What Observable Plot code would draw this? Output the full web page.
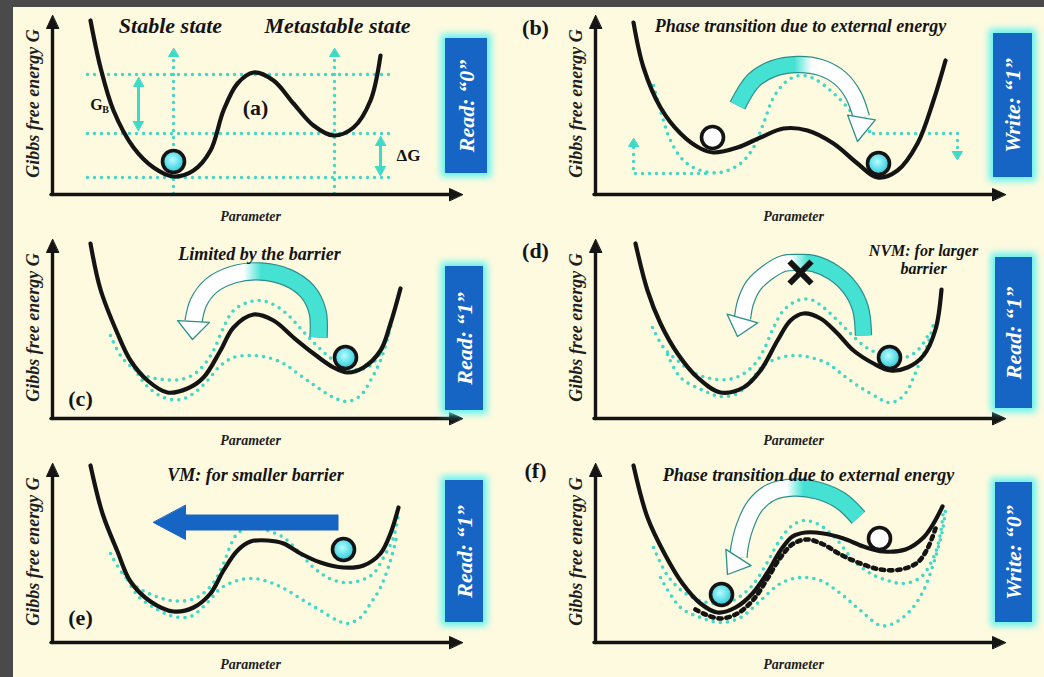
<!DOCTYPE html>
<html>
<head>
<meta charset="utf-8">
<script src="https://cdn.jsdelivr.net/npm/d3@7"></script>
<script src="https://cdn.jsdelivr.net/npm/@observablehq/plot@0.6"></script>
<style>
  html, body { margin: 0; padding: 0; width: 1044px; height: 677px; overflow: hidden; background: #4a4a4a; }
  #paper { position: absolute; left: 13px; top: 7px; width: 1031px; height: 670px; background: #fefadf; }
  #chart { position: absolute; left: 0; top: 0; }
</style>
</head>
<body>
<div id="paper"></div>
<div id="chart"></div>
<script>
// ===================== DATA (panel-local units) =====================
const panelIds   = ["a", "b", "c", "d", "e", "f"];
const panelTags  = ["(a)", "(b)", "(c)", "(d)", "(e)", "(f)"];
const boxLabels  = ["Read: \u201c0\u201d", "Write: \u201c1\u201d", "Read: \u201c1\u201d", "Read: \u201c1\u201d", "Read: \u201c1\u201d", "Write: \u201c0\u201d"];
const yAxisLabel = "Gibbs free energy G";
const xAxisLabel = "Parameter";

// energy curves: [parameter, G]
const aSolid = [[78,205],[88,158],[101,115],[121,78],[141,58],[161,49],[181,55],[198,75],[211,115],[225,142],[241,153],[261,145],[281,122],[301,100],[321,90],[341,98],[358,125],[368,170]];
const bSolid = [[78,203],[88,158],[105,118],[125,92],[145,77],[158,73],[182,78],[205,88],[228,97],[252,95],[278,82],[302,62],[322,48],[342,55],[362,82],[378,125],[390,165]];
const cSolid = [[78,206],[88,160],[105,116],[118,89],[135,69],[155,57],[175,61],[191,72],[208,99],[221,122],[241,135],[261,129],[281,112],[301,96],[321,82],[335,77],[351,82],[368,99],[378,126],[388,161]];
const dSolid = [[80,206],[92,159],[105,126],[122,96],[142,72],[165,57],[188,62],[205,79],[222,109],[235,129],[248,136],[265,131],[282,116],[298,99],[318,86],[335,79],[352,82],[368,94],[380,120],[386,160]];
const eSolid = [[78,208],[90,160],[105,122],[118,92],[138,72],[161,62],[181,66],[198,80],[211,103],[225,123],[238,132],[255,133],[271,130],[288,120],[308,111],[331,106],[351,108],[368,120],[378,140],[386,166]];
const fSolid = [[78,208],[92,156],[110,118],[127,90],[145,70],[162,61],[180,66],[197,80],[212,101],[225,123],[237,137],[250,141],[268,140],[288,135],[308,127],[328,122],[350,124],[368,136],[378,150],[387,167]];

const bDotted = [[98,140],[105,115],[115,85],[128,65],[145,55],[165,53],[185,62],[198,78],[208,102],[218,128],[232,145],[245,150],[258,147],[275,135],[292,118],[308,98],[318,92]];
const cUpper  = [[98,114],[108,94],[121,81],[135,73],[151,70],[168,70],[181,75],[191,84],[201,99],[211,122],[221,139],[235,147],[248,149],[261,145],[275,135],[288,121],[301,107],[315,94],[328,84],[340,80],[355,82],[367,95],[376,115]];
const cLower  = [[115,94],[125,76],[135,63],[151,52],[168,50],[181,56],[195,69],[208,84],[221,92],[238,94],[255,92],[271,86],[288,74],[305,62],[321,52],[335,48],[348,54],[358,69],[368,89],[375,111],[380,130]];
const dUpper  = [[97,122],[108,102],[122,89],[138,77],[155,71],[172,70],[185,74],[198,84],[208,99],[218,122],[228,139],[242,149],[255,150],[268,142],[282,129],[295,116],[308,104],[322,96],[335,91],[350,92],[363,100],[373,115]];
const dLower  = [[112,95],[125,72],[148,59],[165,53],[182,56],[195,69],[208,84],[222,91],[238,94],[255,92],[272,86],[288,74],[305,62],[322,52],[332,47],[342,49],[352,59],[358,72],[365,89],[372,105],[378,125]];
const eUpper  = [[98,120],[110,100],[125,86],[141,78],[158,73],[175,73],[188,78],[201,91],[211,110],[218,128],[225,140],[238,146],[255,143],[271,136],[285,123],[301,106],[315,96],[331,91],[348,93],[361,100],[371,116],[381,136],[386,160]];
const eLower  = [[112,100],[125,78],[145,64],[161,57],[178,57],[195,71],[208,85],[225,93],[241,95],[258,91],[275,83],[291,73],[308,63],[325,53],[335,50],[348,56],[358,70],[368,86],[378,113],[384,136]];
const fUpper  = [[98,126],[112,98],[130,80],[152,71],[175,72],[195,86],[210,108],[224,133],[238,149],[250,153],[265,148],[282,133],[298,113],[315,100],[332,93],[348,90],[365,96],[378,116],[385,140],[388,165]];
const fLower  = [[105,96],[125,66],[145,56],[165,51],[185,56],[205,73],[225,90],[245,96],[265,93],[285,80],[305,63],[325,48],[338,50],[355,63],[368,83],[378,110],[387,143],[390,163]];
const fBlackDotted = [[140,64],[150,59],[165,55],[182,60],[198,74],[212,95],[225,116],[238,130],[252,134],[268,129],[285,119],[305,110],[325,104],[345,104],[362,111],[372,125],[380,145]];

// panel (a) guides
const aLevels = [151, 92, 48];
const aLevelSpan = [75, 380];
const aStateX = [161, 322];
const aStateSpan = [32, 177];
const aGB = [126, 95, 148];      // x, from, to
const aDG = [368, 50, 89];

// panel (b) energy-level steps (last point = arrow tip)
const bStepLeft  = [[150,52],[78,52],[78,87]];
const bStepRight = [[318,92],[402,92],[402,66]];

// curved transition arrows (centre line, last point = tip)
const bArrow = [[182,120],[198,145],[218,157],[242,161],[265,158],[285,147],[298,130],[306,108],[302,84]];
const cArrow = [[306,112],[305,138],[295,158],[275,172],[248,178],[221,175],[199,164],[186,147],[181,128],[180,110]];
const dArrow = [[308,114],[305,141],[295,161],[278,177],[258,186],[245,187],[228,186],[212,177],[198,164],[190,147],[187,131],[182,113]];
const fArrow = [[303,156],[285,173],[262,183],[238,186],[215,181],[199,167],[189,146],[184,126],[183,116],[172,99]];
const eArrow = [[326,151],[173,151],[141,151]];
const dCross = [245, 177];

// balls
const ballPanels = ["a", "b", "b", "c", "d", "e", "f", "f"];
const ballX = [161, 157, 323, 333, 334, 331, 166, 324];
const ballY = [64, 88, 62, 92, 92, 124, 79, 135];
const ballFilled = [true, false, true, true, true, true, true, false];

// read / write boxes
const boxX1 = [433, 438, 433, 440, 433, 440];
const boxX2 = [475, 477, 471, 477, 471, 477];
const boxY1 = [52, 48, 39, 41, 51, 51];
const boxY2 = [187, 192, 183, 192, 193, 191];

// panel tags and annotations
const tagX = [243, -20, 68, -20, 68, -20];
const tagY = [118, 198, 51, 199, 56, 203];
const titleTexts  = ["Stable state", "Metastable state", "Phase transition due to external energy", "Limited by the barrier", "NVM: for larger", "barrier", "VM: for smaller barrier", "Phase transition due to external energy"];
const titlePanels = ["a", "a", "b", "c", "d", "d", "e", "f"];
const titleX = [158, 325, 245, 247, 368, 368, 243, 253];
const titleY = [200, 200, 199, 195, 199, 181, 198, 198];

// ===================== LAYOUT / STYLE =====================
const colX = [12, 555];
const rowY = [452, 228, 4];
const where = {a: [0, 0], b: [1, 0], c: [0, 1], d: [1, 1], e: [0, 2], f: [1, 2]};
const titleFont = [22, 22, 18, 18, 16, 16, 18, 18];
const axis = {x0: 40, y0: 31, top: 210, right: 450};
const SERIF = "Liberation Serif, Times New Roman, serif";
const CYAN = "#3fd9c8";
const TEAL = "#2a8f8b";
const INK = "#141414";
const BLUE = "#1664c4";
const GLOW = "#5ff3f1";

const P = (panel, [x, y]) => { const [c, r] = where[panel]; return [colX[c] + x, rowY[r] + y]; };
const rows = (id, panel, pts) => pts.map((p) => { const [X, Y] = P(panel, p); return {id, X, Y}; });
const unit = ([x1, y1], [x2, y2]) => { const l = Math.hypot(x2 - x1, y2 - y1); return [(x2 - x1) / l, (y2 - y1) / l]; };
function tri(id, tip, dir, len, wid) {
  const [tx, ty] = tip, [dx, dy] = dir, bx = tx - dx * len, by = ty - dy * len, nx = -dy, ny = dx;
  return [[tx, ty], [bx + nx * wid / 2, by + ny * wid / 2], [bx - nx * wid / 2, by - ny * wid / 2]].map(([X, Y]) => ({id, X, Y}));
}
function pointed(id, panel, pts, len, wid) {
  const g = pts.map((p) => P(panel, p));
  const tip = g[g.length - 1], dir = unit(g[g.length - 2], tip);
  const stop = [tip[0] - dir[0] * len * 0.7, tip[1] - dir[1] * len * 0.7];
  return {line: [...g.slice(0, -1), stop].map(([X, Y]) => ({id, X, Y})), head: tri(id, tip, dir, len, wid)};
}

// ---------- assemble tables ----------
const solidRows = [
  ...rows("a", "a", aSolid), ...rows("b", "b", bSolid), ...rows("c", "c", cSolid),
  ...rows("d", "d", dSolid), ...rows("e", "e", eSolid), ...rows("f", "f", fSolid)
];
const cyanRows = [
  ...rows("b", "b", bDotted),
  ...rows("cu", "c", cUpper), ...rows("cl", "c", cLower),
  ...rows("du", "d", dUpper), ...rows("dl", "d", dLower),
  ...rows("eu", "e", eUpper), ...rows("el", "e", eLower),
  ...rows("fu", "f", fUpper), ...rows("fl", "f", fLower)
];
const blackDotRows = rows("fk", "f", fBlackDotted);

const guideLines = [], guideHeads = [];
aLevels.forEach((lv, i) => guideLines.push(...rows("lv" + i, "a", [[aLevelSpan[0], lv], [aLevelSpan[1], lv]])));
aStateX.forEach((x, i) => { const q = pointed("st" + i, "a", [[x, aStateSpan[0]], [x, aStateSpan[1]]], 8, 10); guideLines.push(...q.line); guideHeads.push(...q.head); });
[bStepLeft, bStepRight].forEach((s, i) => { const q = pointed("bs" + i, "b", s, 8, 10); guideLines.push(...q.line); guideHeads.push(...q.head); });

const dblLines = [], dblHeads = [];
[aGB, aDG].forEach(([x, y1, y2], i) => {
  const a = P("a", [x, y1]), b = P("a", [x, y2]);
  dblLines.push({id: "d" + i, X: a[0], Y: a[1] + 6}, {id: "d" + i, X: b[0], Y: b[1] - 6});
  dblHeads.push(...tri("d" + i + "b", a, [0, -1], 9, 10), ...tri("d" + i + "t", b, [0, 1], 9, 10));
});

const axisLines = [], axisHeads = [];
panelIds.forEach((p) => {
  const o = P(p, [axis.x0, axis.y0]), t = P(p, [axis.x0, axis.top]), r = P(p, [axis.right, axis.y0]);
  axisLines.push({id: p + "y", X: o[0], Y: o[1]}, {id: p + "y", X: t[0], Y: t[1] - 8});
  axisLines.push({id: p + "x", X: o[0] - 1.5, Y: o[1]}, {id: p + "x", X: r[0] - 8, Y: r[1]});
  axisHeads.push(...tri(p + "yh", t, [0, 1], 13, 12), ...tri(p + "xh", r, [1, 0], 13, 12));
});
const yLabelRows = panelIds.map((p) => { const [X, Y] = P(p, [21, 122]); return {X, Y, text: yAxisLabel}; });
const xLabelRows = panelIds.map((p) => { const [X, Y] = P(p, [238, 9]); return {X, Y, text: xAxisLabel}; });

const boxRows = panelIds.map((p, i) => {
  const [x1, y1] = P(p, [boxX1[i], boxY1[i]]), [x2, y2] = P(p, [boxX2[i], boxY2[i]]);
  return {x1, x2, y1, y2, cx: (x1 + x2) / 2, cy: (y1 + y2) / 2, text: boxLabels[i]};
});
const tagRows = panelIds.map((p, i) => { const [X, Y] = P(p, [tagX[i], tagY[i]]); return {X, Y, text: panelTags[i]}; });
const titleRows = titleTexts.map((t, i) => { const [X, Y] = P(titlePanels[i], [titleX[i], titleY[i]]); return {X, Y, text: t, size: titleFont[i]}; });
const ballRows = ballPanels.map((p, i) => { const [X, Y] = P(p, [ballX[i], ballY[i]]); return {X, Y, filled: ballFilled[i]}; });

const gbRows = [{p: [84, 121], t: "G", s: 16}, {p: [93, 116], t: "B", s: 10}, {p: [396, 70], t: "\u0394G", s: 17}]
  .map(({p, t, s}) => { const [X, Y] = P("a", p); return {X, Y, text: t, size: s}; });

const ribbonSpecs = [
  {panel: "b", pts: bArrow, grad: "url(#gradCyanLeft)", w: 15, hw: 28},
  {panel: "c", pts: cArrow, grad: "url(#gradCyanRight)", w: 16, hw: 32},
  {panel: "d", pts: dArrow, grad: "url(#gradCyanRight)", w: 15, hw: 32},
  {panel: "f", pts: fArrow, grad: "url(#gradCyanRight)", w: 16, hw: 30}
];
const ribbonMarks = [];
ribbonSpecs.forEach((s, k) => {
  const g = s.pts.map((p) => P(s.panel, p));
  const tip = g[g.length - 1], end = g[g.length - 2], dir = unit(end, tip);
  const body = g.slice(0, -1).map(([X, Y]) => ({X, Y}));
  const head = tri("h" + k, tip, dir, Math.hypot(tip[0] - end[0], tip[1] - end[1]), s.hw);
  ribbonMarks.push(
    Plot.line(body, {x: "X", y: "Y", curve: "catmull-rom", stroke: TEAL, strokeWidth: s.w + 2.4, strokeLinecap: "butt"}),
    Plot.line(body, {x: "X", y: "Y", curve: "catmull-rom", stroke: s.grad, strokeWidth: s.w, strokeLinecap: "butt"}),
    Plot.line(head, {x: "X", y: "Y", curve: "linear-closed", fill: "#ffffff", stroke: TEAL, strokeWidth: 1.3})
  );
});

const eG = eArrow.map((p) => P("e", p));
const eShaft = [{X: eG[0][0], Y: eG[0][1]}, {X: eG[1][0] - 1, Y: eG[1][1]}];
const eHead = tri("eh", eG[2], unit(eG[1], eG[2]), eG[1][0] - eG[2][0], 34);

const [cxX, cxY] = P("d", dCross);
const crossRows = [
  {id: 1, X: cxX - 11, Y: cxY - 11}, {id: 1, X: cxX + 11, Y: cxY + 11},
  {id: 2, X: cxX - 11, Y: cxY + 11}, {id: 2, X: cxX + 11, Y: cxY - 11}
];

const svg = Plot.plot({
  width: 1044, height: 677, margin: 0,
  x: {domain: [0, 1044], axis: null},
  y: {domain: [0, 677], axis: null},
  style: {background: "transparent", overflow: "visible"},
  marks: [
    Plot.line(guideLines, {x: "X", y: "Y", z: "id", stroke: CYAN, strokeWidth: 3.4, strokeDasharray: "0 7", strokeLinecap: "round"}),
    Plot.line(guideHeads, {x: "X", y: "Y", z: "id", curve: "linear-closed", fill: CYAN, stroke: CYAN, strokeWidth: 1}),
    Plot.line(dblLines, {x: "X", y: "Y", z: "id", stroke: CYAN, strokeWidth: 3}),
    Plot.line(dblHeads, {x: "X", y: "Y", z: "id", curve: "linear-closed", fill: CYAN, stroke: CYAN, strokeWidth: 1}),
    Plot.line(cyanRows, {x: "X", y: "Y", z: "id", curve: "catmull-rom", stroke: CYAN, strokeWidth: 3.6, strokeDasharray: "0 7.2", strokeLinecap: "round"}),
    Plot.line(blackDotRows, {x: "X", y: "Y", z: "id", curve: "catmull-rom", stroke: INK, strokeWidth: 4.6, strokeDasharray: "3.4 4.8"}),
    Plot.line(solidRows, {x: "X", y: "Y", z: "id", curve: "catmull-rom", stroke: INK, strokeWidth: 4.2, strokeLinecap: "round"}),
    ...ribbonMarks,
    Plot.line(eShaft, {x: "X", y: "Y", stroke: BLUE, strokeWidth: 16, strokeLinecap: "butt"}),
    Plot.line(eHead, {x: "X", y: "Y", curve: "linear-closed", fill: BLUE, stroke: BLUE, strokeWidth: 1}),
    Plot.line(crossRows, {x: "X", y: "Y", z: "id", stroke: INK, strokeWidth: 6, strokeLinecap: "butt"}),
    Plot.dot(ballRows, {x: "X", y: "Y", r: 11, fill: (d) => d.filled ? "url(#ballGrad)" : "#ffffff", stroke: INK, strokeWidth: 3.6}),
    Plot.line(axisLines, {x: "X", y: "Y", z: "id", stroke: INK, strokeWidth: 3.4}),
    Plot.line(axisHeads, {x: "X", y: "Y", z: "id", curve: "linear-closed", fill: INK, stroke: INK, strokeWidth: 1}),
    Plot.text(yLabelRows, {x: "X", y: "Y", text: "text", rotate: -90, fontFamily: SERIF, fontSize: 18, fontWeight: "bold", fontStyle: "italic", fill: "#1e1e1e"}),
    Plot.text(xLabelRows, {x: "X", y: "Y", text: "text", fontFamily: SERIF, fontSize: 14, fontWeight: "bold", fontStyle: "italic", fill: "#1e1e1e"}),
    Plot.rect(boxRows, {x1: "x1", x2: "x2", y1: "y1", y2: "y2", fill: GLOW, inset: -4}),
    Plot.rect(boxRows, {x1: "x1", x2: "x2", y1: "y1", y2: "y2", fill: BLUE}),
    Plot.text(boxRows, {x: "cx", y: "cy", text: "text", rotate: -90, fill: "#ffffff", fontFamily: SERIF, fontSize: 22, fontWeight: "bold", fontStyle: "italic"}),
    Plot.text(tagRows, {x: "X", y: "Y", text: "text", fontFamily: SERIF, fontSize: 22, fontWeight: "bold", fill: INK}),
    Plot.text(titleRows, {x: "X", y: "Y", text: "text", fontSize: (d) => d.size, fontFamily: SERIF, fontWeight: "bold", fontStyle: "italic", fill: INK}),
    Plot.text(gbRows, {x: "X", y: "Y", text: "text", fontSize: (d) => d.size, fontFamily: SERIF, fontWeight: "bold", fill: INK})
  ]
});

const root = d3.select(svg);
const defs = root.insert("defs", ":first-child");
const rg = defs.append("radialGradient").attr("id", "ballGrad").attr("cx", "45%").attr("cy", "42%").attr("r", "62%");
rg.append("stop").attr("offset", "0%").attr("stop-color", "#b4fdff");
rg.append("stop").attr("offset", "100%").attr("stop-color", "#1fc6d6");
function lin(id, x1, x2) {
  const g = defs.append("linearGradient").attr("id", id).attr("x1", x1).attr("x2", x2).attr("y1", 0).attr("y2", 0);
  [["0%", "#45e2d4"], ["46%", "#45e2d4"], ["60%", "#ffffff"], ["100%", "#ffffff"]]
    .forEach(([o, c]) => g.append("stop").attr("offset", o).attr("stop-color", c));
}
lin("gradCyanLeft", 0, 1);
lin("gradCyanRight", 1, 0);
const flt = defs.append("filter").attr("id", "glow").attr("x", "-50%").attr("y", "-20%").attr("width", "200%").attr("height", "140%");
flt.append("feGaussianBlur").attr("stdDeviation", 3.5);
root.selectAll("g").filter(function () { return (this.getAttribute("fill") || "").toLowerCase() === GLOW; }).attr("filter", "url(#glow)");

document.getElementById("chart").appendChild(svg);
</script>
</body>
</html>
